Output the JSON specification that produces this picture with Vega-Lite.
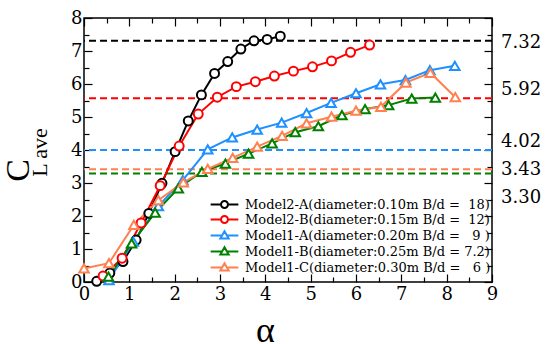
{
  "$schema": "https://vega.github.io/schema/vega-lite/v6.json",
  "width": 408,
  "height": 264,
  "autosize": "none",
  "padding": {"left": 84, "top": 18, "right": 59, "bottom": 62},
  "background": "white",
  "config": {
    "view": {"stroke": "black", "strokeWidth": 1.5},
    "font": "DejaVu Serif",
    "axis": {"grid": false, "domain": false, "tickColor": "black", "tickWidth": 1.2, "labelFont": "DejaVu Serif", "labelFontSize": 18, "labelColor": "black", "titleFont": "serif", "titleColor": "black", "titleFontWeight": "normal", "labelOverlap": false, "labelFlush": false}
  },
  "datasets": {
    "curves": [
      {"series": "Model2-A(diameter:0.10m B/d =\u00a0\u00a018)", "x": 0.28, "y": 0.02},
      {"series": "Model2-A(diameter:0.10m B/d =\u00a0\u00a018)", "x": 0.57, "y": 0.27},
      {"series": "Model2-A(diameter:0.10m B/d =\u00a0\u00a018)", "x": 0.86, "y": 0.62},
      {"series": "Model2-A(diameter:0.10m B/d =\u00a0\u00a018)", "x": 1.15, "y": 1.27},
      {"series": "Model2-A(diameter:0.10m B/d =\u00a0\u00a018)", "x": 1.43, "y": 2.08},
      {"series": "Model2-A(diameter:0.10m B/d =\u00a0\u00a018)", "x": 1.72, "y": 2.99},
      {"series": "Model2-A(diameter:0.10m B/d =\u00a0\u00a018)", "x": 2.01, "y": 3.95},
      {"series": "Model2-A(diameter:0.10m B/d =\u00a0\u00a018)", "x": 2.30, "y": 4.88},
      {"series": "Model2-A(diameter:0.10m B/d =\u00a0\u00a018)", "x": 2.59, "y": 5.67},
      {"series": "Model2-A(diameter:0.10m B/d =\u00a0\u00a018)", "x": 2.88, "y": 6.32},
      {"series": "Model2-A(diameter:0.10m B/d =\u00a0\u00a018)", "x": 3.17, "y": 6.68},
      {"series": "Model2-A(diameter:0.10m B/d =\u00a0\u00a018)", "x": 3.46, "y": 7.06},
      {"series": "Model2-A(diameter:0.10m B/d =\u00a0\u00a018)", "x": 3.75, "y": 7.31},
      {"series": "Model2-A(diameter:0.10m B/d =\u00a0\u00a018)", "x": 4.04, "y": 7.35},
      {"series": "Model2-A(diameter:0.10m B/d =\u00a0\u00a018)", "x": 4.33, "y": 7.45},
      {"series": "Model2-B(diameter:0.15m B/d =\u00a0\u00a012)", "x": 0.42, "y": 0.18},
      {"series": "Model2-B(diameter:0.15m B/d =\u00a0\u00a012)", "x": 0.84, "y": 0.72},
      {"series": "Model2-B(diameter:0.15m B/d =\u00a0\u00a012)", "x": 1.26, "y": 1.79},
      {"series": "Model2-B(diameter:0.15m B/d =\u00a0\u00a012)", "x": 1.68, "y": 2.92},
      {"series": "Model2-B(diameter:0.15m B/d =\u00a0\u00a012)", "x": 2.10, "y": 4.12},
      {"series": "Model2-B(diameter:0.15m B/d =\u00a0\u00a012)", "x": 2.52, "y": 5.09},
      {"series": "Model2-B(diameter:0.15m B/d =\u00a0\u00a012)", "x": 2.94, "y": 5.60},
      {"series": "Model2-B(diameter:0.15m B/d =\u00a0\u00a012)", "x": 3.36, "y": 5.92},
      {"series": "Model2-B(diameter:0.15m B/d =\u00a0\u00a012)", "x": 3.78, "y": 6.07},
      {"series": "Model2-B(diameter:0.15m B/d =\u00a0\u00a012)", "x": 4.20, "y": 6.24},
      {"series": "Model2-B(diameter:0.15m B/d =\u00a0\u00a012)", "x": 4.62, "y": 6.39},
      {"series": "Model2-B(diameter:0.15m B/d =\u00a0\u00a012)", "x": 5.04, "y": 6.52},
      {"series": "Model2-B(diameter:0.15m B/d =\u00a0\u00a012)", "x": 5.46, "y": 6.70},
      {"series": "Model2-B(diameter:0.15m B/d =\u00a0\u00a012)", "x": 5.88, "y": 6.96},
      {"series": "Model2-B(diameter:0.15m B/d =\u00a0\u00a012)", "x": 6.30, "y": 7.18},
      {"series": "Model1-A(diameter:0.20m B/d =\u00a0\u00a0\u00a09\u00a0)", "x": 0.55, "y": 0.06},
      {"series": "Model1-A(diameter:0.20m B/d =\u00a0\u00a0\u00a09\u00a0)", "x": 1.09, "y": 1.22},
      {"series": "Model1-A(diameter:0.20m B/d =\u00a0\u00a0\u00a09\u00a0)", "x": 1.64, "y": 2.30},
      {"series": "Model1-A(diameter:0.20m B/d =\u00a0\u00a0\u00a09\u00a0)", "x": 2.18, "y": 3.09},
      {"series": "Model1-A(diameter:0.20m B/d =\u00a0\u00a0\u00a09\u00a0)", "x": 2.73, "y": 4.02},
      {"series": "Model1-A(diameter:0.20m B/d =\u00a0\u00a0\u00a09\u00a0)", "x": 3.27, "y": 4.38},
      {"series": "Model1-A(diameter:0.20m B/d =\u00a0\u00a0\u00a09\u00a0)", "x": 3.82, "y": 4.62},
      {"series": "Model1-A(diameter:0.20m B/d =\u00a0\u00a0\u00a09\u00a0)", "x": 4.36, "y": 4.83},
      {"series": "Model1-A(diameter:0.20m B/d =\u00a0\u00a0\u00a09\u00a0)", "x": 4.91, "y": 5.12},
      {"series": "Model1-A(diameter:0.20m B/d =\u00a0\u00a0\u00a09\u00a0)", "x": 5.45, "y": 5.43},
      {"series": "Model1-A(diameter:0.20m B/d =\u00a0\u00a0\u00a09\u00a0)", "x": 6.00, "y": 5.72},
      {"series": "Model1-A(diameter:0.20m B/d =\u00a0\u00a0\u00a09\u00a0)", "x": 6.54, "y": 5.99},
      {"series": "Model1-A(diameter:0.20m B/d =\u00a0\u00a0\u00a09\u00a0)", "x": 7.09, "y": 6.12},
      {"series": "Model1-A(diameter:0.20m B/d =\u00a0\u00a0\u00a09\u00a0)", "x": 7.63, "y": 6.42},
      {"series": "Model1-A(diameter:0.20m B/d =\u00a0\u00a0\u00a09\u00a0)", "x": 8.18, "y": 6.55},
      {"series": "Model1-B(diameter:0.25m B/d = 7.2)", "x": 0.54, "y": 0.16},
      {"series": "Model1-B(diameter:0.25m B/d = 7.2)", "x": 1.05, "y": 1.17},
      {"series": "Model1-B(diameter:0.25m B/d = 7.2)", "x": 1.57, "y": 2.10},
      {"series": "Model1-B(diameter:0.25m B/d = 7.2)", "x": 2.08, "y": 2.84},
      {"series": "Model1-B(diameter:0.25m B/d = 7.2)", "x": 2.60, "y": 3.34},
      {"series": "Model1-B(diameter:0.25m B/d = 7.2)", "x": 3.12, "y": 3.59},
      {"series": "Model1-B(diameter:0.25m B/d = 7.2)", "x": 3.63, "y": 3.89},
      {"series": "Model1-B(diameter:0.25m B/d = 7.2)", "x": 4.15, "y": 4.20},
      {"series": "Model1-B(diameter:0.25m B/d = 7.2)", "x": 4.66, "y": 4.54},
      {"series": "Model1-B(diameter:0.25m B/d = 7.2)", "x": 5.17, "y": 4.72},
      {"series": "Model1-B(diameter:0.25m B/d = 7.2)", "x": 5.69, "y": 5.06},
      {"series": "Model1-B(diameter:0.25m B/d = 7.2)", "x": 6.20, "y": 5.24},
      {"series": "Model1-B(diameter:0.25m B/d = 7.2)", "x": 6.72, "y": 5.36},
      {"series": "Model1-B(diameter:0.25m B/d = 7.2)", "x": 7.23, "y": 5.56},
      {"series": "Model1-B(diameter:0.25m B/d = 7.2)", "x": 7.75, "y": 5.59},
      {"series": "Model1-C(diameter:0.30m B/d =\u00a0\u00a0\u00a06\u00a0)", "x": 0.00, "y": 0.41},
      {"series": "Model1-C(diameter:0.30m B/d =\u00a0\u00a0\u00a06\u00a0)", "x": 0.55, "y": 0.57},
      {"series": "Model1-C(diameter:0.30m B/d =\u00a0\u00a0\u00a06\u00a0)", "x": 1.10, "y": 1.73},
      {"series": "Model1-C(diameter:0.30m B/d =\u00a0\u00a0\u00a06\u00a0)", "x": 1.64, "y": 2.48},
      {"series": "Model1-C(diameter:0.30m B/d =\u00a0\u00a0\u00a06\u00a0)", "x": 2.19, "y": 3.02},
      {"series": "Model1-C(diameter:0.30m B/d =\u00a0\u00a0\u00a06\u00a0)", "x": 2.73, "y": 3.43},
      {"series": "Model1-C(diameter:0.30m B/d =\u00a0\u00a0\u00a06\u00a0)", "x": 3.28, "y": 3.76},
      {"series": "Model1-C(diameter:0.30m B/d =\u00a0\u00a0\u00a06\u00a0)", "x": 3.82, "y": 4.10},
      {"series": "Model1-C(diameter:0.30m B/d =\u00a0\u00a0\u00a06\u00a0)", "x": 4.37, "y": 4.43},
      {"series": "Model1-C(diameter:0.30m B/d =\u00a0\u00a0\u00a06\u00a0)", "x": 4.91, "y": 4.81},
      {"series": "Model1-C(diameter:0.30m B/d =\u00a0\u00a0\u00a06\u00a0)", "x": 5.46, "y": 5.01},
      {"series": "Model1-C(diameter:0.30m B/d =\u00a0\u00a0\u00a06\u00a0)", "x": 6.00, "y": 5.19},
      {"series": "Model1-C(diameter:0.30m B/d =\u00a0\u00a0\u00a06\u00a0)", "x": 6.55, "y": 5.31},
      {"series": "Model1-C(diameter:0.30m B/d =\u00a0\u00a0\u00a06\u00a0)", "x": 7.10, "y": 6.04},
      {"series": "Model1-C(diameter:0.30m B/d =\u00a0\u00a0\u00a06\u00a0)", "x": 7.64, "y": 6.34},
      {"series": "Model1-C(diameter:0.30m B/d =\u00a0\u00a0\u00a06\u00a0)", "x": 8.19, "y": 5.60}
    ],
    "levels": [
      {"series": "Model2-A(diameter:0.10m B/d =\u00a0\u00a018)", "h": 7.31},
      {"series": "Model2-B(diameter:0.15m B/d =\u00a0\u00a012)", "h": 5.57},
      {"series": "Model1-A(diameter:0.20m B/d =\u00a0\u00a0\u00a09\u00a0)", "h": 4.0},
      {"series": "Model1-B(diameter:0.25m B/d = 7.2)", "h": 3.29},
      {"series": "Model1-C(diameter:0.30m B/d =\u00a0\u00a0\u00a06\u00a0)", "h": 3.42}
    ],
    "rightLabels": [
      {"lab": "7.32", "v": 7.24},
      {"lab": "5.92", "v": 5.82},
      {"lab": "4.02", "v": 4.25},
      {"lab": "3.43", "v": 3.39},
      {"lab": "3.30", "v": 2.55}
    ]
  },
  "resolve": {"axis": {"x": "independent", "y": "independent"}},
  "layer": [
    {
      "data": {"name": "levels"},
      "mark": {"type": "rule", "strokeDash": [7, 4], "strokeWidth": 2},
      "encoding": {
        "y": {"field": "h", "type": "quantitative", "scale": {"domain": [0, 8], "nice": false}, "axis": null},
        "color": {"field": "series", "type": "nominal"}
      }
    },
    {
      "data": {"name": "curves"},
      "mark": {"type": "line", "strokeWidth": 2},
      "encoding": {
        "x": {"field": "x", "type": "quantitative", "scale": {"domain": [0, 9], "nice": false},
          "axis": {"orient": "bottom", "values": [0,0.5,1,1.5,2,2.5,3,3.5,4,4.5,5,5.5,6,6.5,7,7.5,8,8.5,9],
            "labelExpr": "datum.value % 1 === 0 ? format(datum.value, 'd') : ''",
            "tickSize": {"condition": {"test": "datum.value % 1 === 0", "value": -8}, "value": -5},
            "labelPadding": 11, "title": "α", "titleFontSize": 36, "titleX": 181, "titleY": 59, "titleBaseline": "alphabetic", "titleAlign": "center"}},
        "y": {"field": "y", "type": "quantitative", "scale": {"domain": [0, 8], "nice": false},
          "axis": {"orient": "left", "values": [0,0.5,1,1.5,2,2.5,3,3.5,4,4.5,5,5.5,6,6.5,7,7.5,8],
            "labelExpr": "datum.value % 1 === 0 ? format(datum.value, 'd') : ''",
            "tickSize": {"condition": {"test": "datum.value % 1 === 0", "value": -8}, "value": -5},
            "labelPadding": 10, "title": "C", "titleFontSize": 34, "titleAngle": 270, "titleX": -56, "titleY": 152, "titleBaseline": "alphabetic", "titleAlign": "center"}},
        "color": {"field": "series", "type": "nominal",
          "scale": {"domain": ["Model2-A(diameter:0.10m B/d =\u00a0\u00a018)", "Model2-B(diameter:0.15m B/d =\u00a0\u00a012)", "Model1-A(diameter:0.20m B/d =\u00a0\u00a0\u00a09\u00a0)", "Model1-B(diameter:0.25m B/d = 7.2)", "Model1-C(diameter:0.30m B/d =\u00a0\u00a0\u00a06\u00a0)"],
            "range": ["#000000", "#ff0000", "#1e90ff", "#008000", "#ff8050"]},
          "legend": {"orient": "none", "legendX": 134, "legendY": 180, "title": null,
            "labelFont": "DejaVu Serif", "labelFontSize": 13, "labelColor": "black", "labelLimit": 500,
            "symbolSize": 48, "symbolStrokeWidth": 2, "rowPadding": 0, "labelOffset": 14,
            "encode": {"symbols": {"update": {
              "shape": {"signal": "indexof(datum.value, 'Model2') === 0 ? 'M-4,0L-1,0M1,0L4,0M1,0A1,1,0,1,1,-1,0A1,1,0,1,1,1,0Z' : 'M-4,0L-0.7,0M0.7,0L4,0M0,-1.25L1.2,0.85L-1.2,0.85Z'"},
              "fill": {"value": "white"}, "strokeWidth": {"value": 2}, "opacity": {"value": 1}}}}}},
        "detail": {"field": "series"}
      }
    },
    {
      "data": {"name": "curves"},
      "transform": [{"filter": "indexof(datum.series, 'Model2') === 0"}],
      "mark": {"type": "point", "shape": "circle", "filled": false, "fill": "white", "fillOpacity": 1, "opacity": 1, "strokeWidth": 2, "size": 80},
      "encoding": {
        "x": {"field": "x", "type": "quantitative", "scale": {"domain": [0, 9], "nice": false},
          "axis": {"orient": "top", "values": [0,0.5,1,1.5,2,2.5,3,3.5,4,4.5,5,5.5,6,6.5,7,7.5,8,8.5,9], "labels": false,
            "tickSize": {"condition": {"test": "datum.value % 1 === 0", "value": -8}, "value": -5},
            "title": "L ave", "titleFont": "Liberation Serif", "titleFontSize": 22, "titleAngle": 270, "titleX": -38, "titleY": 134, "titleBaseline": "alphabetic", "titleAlign": "center"}},
        "y": {"field": "y", "type": "quantitative", "scale": {"domain": [0, 8], "nice": false},
          "axis": {"orient": "right", "values": [0,0.5,1,1.5,2,2.5,3,3.5,4,4.5,5,5.5,6,6.5,7,7.5,8], "labels": false,
            "tickSize": {"condition": {"test": "datum.value % 1 === 0", "value": -8}, "value": -5}, "title": null}},
        "color": {"field": "series", "type": "nominal"}
      }
    },
    {
      "data": {"name": "curves"},
      "transform": [{"filter": "indexof(datum.series, 'Model1') === 0"}],
      "mark": {"type": "point", "shape": "triangle-up", "filled": false, "fill": "white", "fillOpacity": 1, "opacity": 1, "strokeWidth": 2, "size": 90},
      "encoding": {
        "x": {"field": "x", "type": "quantitative", "scale": {"domain": [0, 9], "nice": false}, "axis": null},
        "y": {"field": "y", "type": "quantitative", "scale": {"domain": [0, 8], "nice": false}, "axis": null},
        "color": {"field": "series", "type": "nominal"}
      }
    },
    {
      "data": {"name": "rightLabels"},
      "mark": {"type": "text", "align": "left", "baseline": "middle", "dx": 9, "font": "DejaVu Serif", "fontSize": 18, "color": "black"},
      "encoding": {
        "x": {"datum": 9, "type": "quantitative", "scale": {"domain": [0, 9], "nice": false}, "axis": null},
        "y": {"field": "v", "type": "quantitative", "scale": {"domain": [0, 8], "nice": false}, "axis": null},
        "text": {"field": "lab"}
      }
    }
  ]
}
